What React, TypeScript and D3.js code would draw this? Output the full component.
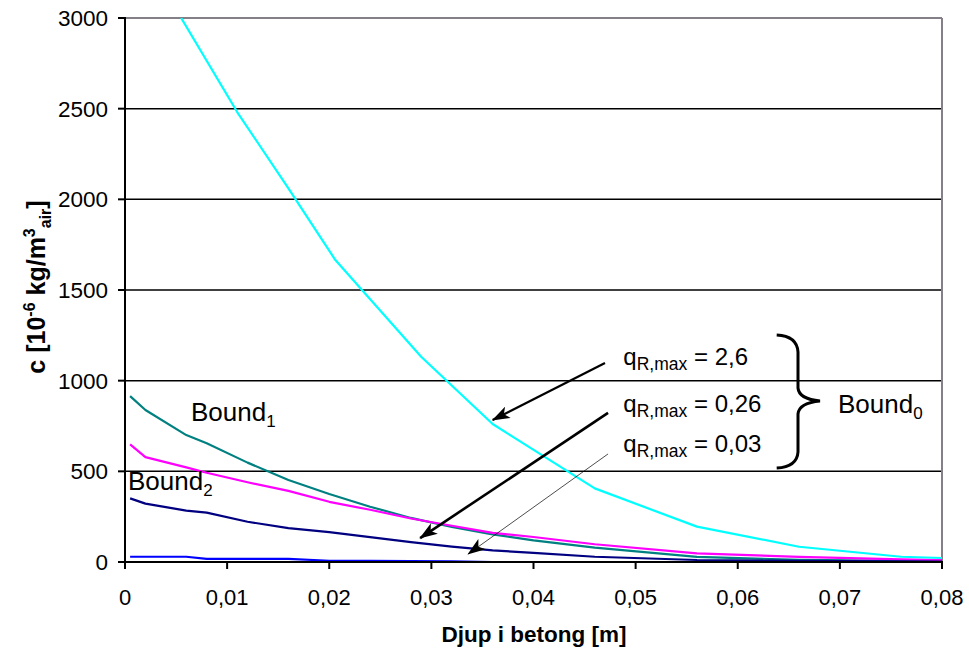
import React from "react";
import * as d3 from "d3";

// ---- data ----
const depthGrid = [0.0005, 0.002, 0.006, 0.008, 0.012, 0.016, 0.02, 0.024, 0.028, 0.032, 0.036, 0.04, 0.046, 0.056, 0.066, 0.076, 0.08];
const bound1 = [915, 838, 700, 655, 548, 452, 375, 305, 243, 193, 152, 119, 79, 28, 12, 6, 5];
const qR26 = [649, 578, 522, 492, 440, 392, 332, 288, 240, 200, 161, 138, 98, 48, 28, 14, 11];
const qR026 = [351, 322, 283, 272, 222, 187, 165, 137, 110, 85, 64, 50, 29, 11, 6, 3, 2];
const qR003 = [29, 29, 29, 17, 17, 17, 7, 6, 5, 3, 0];
const cyanDepth = [0.0055, 0.011, 0.016, 0.0206, 0.029, 0.036, 0.046, 0.056, 0.066, 0.076, 0.08];
const qR26bound0 = [3000, 2480, 2060, 1665, 1132, 761, 406, 195, 84, 29, 22];

const xTicks = [0, 0.01, 0.02, 0.03, 0.04, 0.05, 0.06, 0.07, 0.08];
const xTickLabels = ["0", "0,01", "0,02", "0,03", "0,04", "0,05", "0,06", "0,07", "0,08"];
const yTicks = [0, 500, 1000, 1500, 2000, 2500, 3000];

const series = [
  { name: "Bound1", xs: depthGrid, ys: bound1, color: "#008080" },
  { name: "Bound2 q=2,6", xs: depthGrid, ys: qR26, color: "#FF00FF" },
  { name: "Bound2 q=0,26", xs: depthGrid, ys: qR026, color: "#000080" },
  { name: "Bound2 q=0,03", xs: depthGrid, ys: qR003, color: "#0000FF" },
  { name: "Bound0", xs: cyanDepth, ys: qR26bound0, color: "#00FFFF" },
];

// annotation arrows (data coordinates)
const arrows = [
  { from: [0.047, 1097], to: [0.036, 783], width: 2.2 },
  { from: [0.0473, 822], to: [0.0289, 132], width: 2.6 },
  { from: [0.0473, 596], to: [0.0336, 44], width: 0.7 },
];
const qLabels = [
  { x: 0.0488, y: 1086, value: "2,6" },
  { x: 0.0488, y: 829, value: "0,26" },
  { x: 0.0488, y: 608, value: "0,03" },
];

const W = 969, H = 653;
const L = 125, R = 942, T = 18, B = 562;
const FONT = "'Liberation Sans', Arial, Helvetica, sans-serif";

export default function App() {
  const x = d3.scaleLinear().domain([0, 0.08]).range([L, R]);
  const y = d3.scaleLinear().domain([0, 3000]).range([B, T]);
  const line = d3.line<[number, number]>().x((d) => x(d[0])).y((d) => y(d[1]));

  return (
    <svg width={W} height={H} style={{ position: "absolute", left: 0, top: 0, background: "#fff" }} fontFamily={FONT}>
      <defs>
        <clipPath id="plot">
          <rect x={L} y={T} width={R - L} height={B - T} />
        </clipPath>
        <marker id="arr" viewBox="0 0 20 14" refX="19" refY="7" markerWidth="18" markerHeight="13" orient="auto" markerUnits="userSpaceOnUse">
          <path d="M0,0 L20,7 L0,14 L5,7 Z" fill="#000" />
        </marker>
      </defs>
      <rect x={0} y={0} width={W} height={H} fill="#fff" />
      {/* gridlines */}
      {yTicks.filter((t) => t > 0 && t < 3000).map((t) => (
        <line key={t} x1={L} x2={R} y1={y(t)} y2={y(t)} stroke="#000" strokeWidth={1.5} />
      ))}
      {/* border top/right */}
      <line x1={L} x2={R} y1={y(3000)} y2={y(3000)} stroke="#858087" strokeWidth={2} />
      <line x1={R} x2={R} y1={T} y2={B} stroke="#858087" strokeWidth={2} />

      {/* series */}
      <g clipPath="url(#plot)">
        {series.map((s) => (
          <path key={s.name} d={line(s.ys.map((v, i) => [s.xs[i], v] as [number, number])) || ""} fill="none" stroke={s.color} strokeWidth={2.2} strokeLinejoin="round" />
        ))}
      </g>

      {/* axes */}
      <line x1={L} x2={L} y1={T - 1} y2={B + 1} stroke="#000" strokeWidth={2} />
      <line x1={L - 1} x2={R + 1} y1={B} y2={B} stroke="#000" strokeWidth={2} />
      {yTicks.map((t) => (
        <g key={t}>
          <line x1={L - 7} x2={L} y1={y(t)} y2={y(t)} stroke="#000" strokeWidth={2} />
          <text x={108} y={y(t) + 8} textAnchor="end" fontSize={22.5} fill="#000">{t}</text>
        </g>
      ))}
      {xTicks.map((t, i) => (
        <g key={t}>
          <line x1={x(t)} x2={x(t)} y1={B} y2={B + 7} stroke="#000" strokeWidth={2} />
          <text x={x(t)} y={605} textAnchor="middle" fontSize={22} fill="#000">{xTickLabels[i]}</text>
        </g>
      ))}

      {/* axis titles */}
      <text x={534} y={642} textAnchor="middle" fontSize={22.5} fontWeight="bold">Djup i betong [m]</text>
      <text transform="translate(45,287) rotate(-90)" textAnchor="middle" fontSize={25} fontWeight="bold" style={{ whiteSpace: "pre" }}>
        <tspan>c [10</tspan>
        <tspan fontSize={16} dy={-10}>-6</tspan>
        <tspan dy={10}> kg/m</tspan>
        <tspan fontSize={16} dy={-10}>3</tspan>
        <tspan fontSize={16} dy={16}>air</tspan>
        <tspan dy={-6}>]</tspan>
      </text>

      {/* arrows */}
      {arrows.map((a, i) => (
        <line key={i} x1={x(a.from[0])} y1={y(a.from[1])} x2={x(a.to[0])} y2={y(a.to[1])} stroke="#000" strokeWidth={a.width} markerEnd="url(#arr)" />
      ))}

      {/* q labels */}
      {qLabels.map((q) => (
        <text key={q.value} x={x(q.x)} y={y(q.y)} fontSize={24} style={{ whiteSpace: "pre" }}>
          <tspan>q</tspan>
          <tspan fontSize={17.5} dy={5}>R,max</tspan>
          <tspan dy={-5}>{" = " + q.value}</tspan>
        </text>
      ))}

      {/* brace */}
      <path d="M776.7,335 Q797,336 798,352 L798,388 Q799,399 820,401 Q799,403 798,414 L798,452 Q797,467 776.7,468" fill="none" stroke="#000" strokeWidth={3} />

      {/* Bound labels */}
      <text x={838} y={413} fontSize={26}>
        <tspan>Bound</tspan>
        <tspan fontSize={17} dy={6}>0</tspan>
      </text>
      <text x={191} y={421} fontSize={26}>
        <tspan>Bound</tspan>
        <tspan fontSize={17} dy={6}>1</tspan>
      </text>
      <text x={128} y={490} fontSize={26}>
        <tspan>Bound</tspan>
        <tspan fontSize={17} dy={6}>2</tspan>
      </text>
    </svg>
  );
}
